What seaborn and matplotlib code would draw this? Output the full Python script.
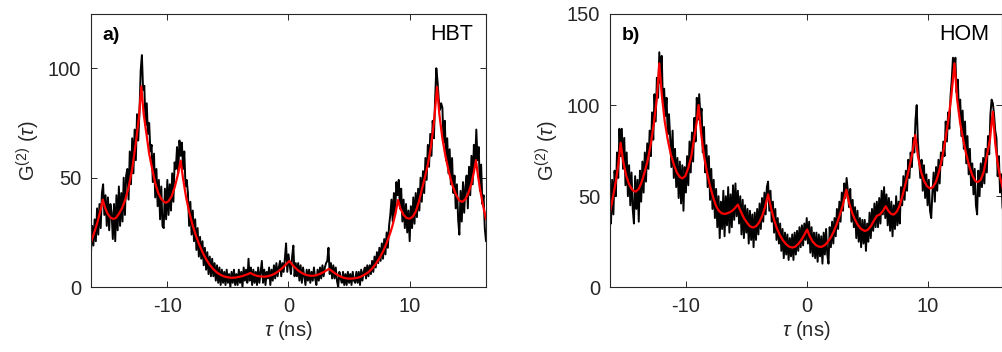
import numpy as np
import pandas as pd
import matplotlib
matplotlib.use("Agg")
import matplotlib.pyplot as plt
import seaborn as sns

# ---------------- data ----------------
tau_start = -16.3
tau_step = 0.1

# Panel a (HBT) measured histogram, 0.1 ns bins from -16.3 ns
hbt_counts = [
    16, 28, 19, 31, 21, 36, 24, 38, 27, 43,
    47, 33, 42, 28, 41, 26, 38, 34, 22, 38,
    21, 42, 26, 46, 28, 43, 30, 50, 33, 51,
    54, 40, 62, 47, 68, 52, 72, 58, 79, 67,
    80, 99, 106, 90, 92, 74, 84, 70, 75, 62,
    65, 48, 61, 41, 54, 37, 49, 31, 46, 28,
    27, 45, 31, 49, 33, 47, 35, 52, 39, 57,
    54, 64, 52, 67, 60, 66, 54, 62, 46, 49,
    43, 28, 39, 24, 35, 21, 31, 17, 27, 14,
    23, 13, 21, 10, 18, 8, 16, 6, 14, 5,
    13, 5, 11, 3, 10, 2, 9, 1, 8, 2,
    7, 1, 8, 2, 6, 0, 7, 2, 8, 1,
    6, 1, 8, 2, 7, 0, 9, 3, 8, 2,
    13, 3, 9, 1, 8, 2, 7, 1, 9, 2,
    7, 12, 2, 8, 1, 7, 4, 9, 1, 8,
    3, 10, 4, 11, 5, 9, 12, 5, 11, 7,
    13, 20, 7, 15, 10, 6, 14, 19, 5, 11,
    5, 11, 3, 10, 2, 9, 5, 1, 8, 3,
    8, 2, 7, 3, 9, 4, 1, 8, 3, 9,
    4, 10, 5, 9, 11, 12, 18, 6, 11, 4,
    10, 4, 9, 3, 0, 7, 4, 2, 7, 1,
    6, 1, 7, 2, 6, 1, 7, 3, 2, 7,
    2, 7, 1, 8, 3, 7, 9, 4, 10, 5,
    10, 6, 12, 7, 14, 9, 16, 11, 18, 12,
    20, 13, 22, 15, 25, 18, 28, 33, 40, 30,
    43, 33, 48, 42, 49, 36, 45, 30, 40, 27,
    38, 25, 35, 21, 37, 27, 41, 29, 43, 32,
    45, 35, 50, 39, 53, 43, 59, 49, 65, 55,
    70, 60, 76, 68, 86, 100, 94, 86, 81, 84,
    82, 66, 76, 58, 68, 52, 63, 47, 59, 43,
    51, 36, 47, 31, 24, 44, 30, 48, 34, 46,
    51, 36, 55, 42, 60, 47, 65, 56, 72, 58,
    64, 44, 56, 38, 42, 27, 21,
]

# Panel b (HOM) measured histogram, 0.1 ns bins from -16.3 ns
hom_counts = [
    49, 35, 59, 40, 64, 50, 74, 60, 87, 72,
    87, 65, 82, 56, 74, 50, 67, 45, 63, 43,
    35, 61, 43, 59, 36, 64, 47, 69, 52, 74,
    58, 79, 65, 86, 72, 96, 81, 106, 91, 115,
    104, 129, 112, 127, 101, 109, 94, 104, 84, 95,
    82, 66, 86, 60, 76, 55, 71, 49, 69, 46,
    67, 42, 66, 52, 72, 56, 80, 63, 85, 69,
    93, 80, 104, 92, 106, 94, 98, 74, 88, 63,
    78, 55, 72, 48, 65, 43, 59, 38, 54, 33,
    50, 27, 47, 32, 53, 28, 50, 34, 55, 30,
    51, 33, 56, 37, 57, 39, 53, 35, 50, 29,
    48, 27, 45, 30, 43, 24, 42, 26, 40, 22,
    41, 26, 43, 29, 46, 32, 49, 36, 52, 40,
    55, 58, 42, 53, 36, 47, 30, 43, 26, 38,
    24, 35, 20, 32, 16, 30, 18, 29, 15, 27,
    17, 29, 15, 30, 18, 31, 20, 33, 22, 34,
    23, 35, 26, 38, 24, 36, 19, 33, 17, 30,
    16, 30, 14, 29, 17, 28, 13, 30, 18, 32,
    18, 13, 33, 22, 36, 24, 38, 28, 43, 32,
    47, 36, 52, 42, 57, 49, 60, 53, 44, 54,
    36, 48, 33, 44, 27, 42, 25, 38, 22, 37,
    24, 37, 20, 35, 25, 41, 27, 43, 31, 46,
    33, 47, 33, 49, 35, 53, 40, 55, 38, 51,
    34, 49, 31, 47, 28, 45, 32, 50, 34, 47,
    35, 55, 45, 61, 48, 64, 53, 70, 60, 74,
    66, 82, 74, 92, 100, 80, 70, 60, 70, 53,
    67, 49, 62, 45, 59, 42, 38, 52, 63, 47,
    66, 53, 70, 57, 74, 67, 80, 72, 91, 80,
    96, 87, 105, 114, 126, 118, 126, 107, 114, 96,
    103, 83, 97, 76, 91, 68, 83, 62, 76, 56,
    68, 51, 65, 45, 40, 64, 50, 68, 55, 71,
    57, 76, 63, 83, 73, 95, 103, 101, 95, 86,
    82, 61, 72, 52, 62, 44, 40,
]

# Fitted model curves
hbt_fit_tau = [
    -16.3, -16.0, -15.75, -15.5, -15.33, -15.15, -14.95, -14.7, -14.45, -14.25,
    -14.0, -13.75, -13.5, -13.2, -12.9, -12.6, -12.35, -12.15, -11.95, -11.7,
    -11.5, -11.25, -11.0, -10.75, -10.5, -10.25, -10.1, -9.9, -9.65, -9.4,
    -9.15, -8.9, -8.7, -8.45, -8.2, -7.95, -7.7, -7.4, -7.1, -6.8,
    -6.5, -6.2, -5.9, -5.6, -5.3, -5.0, -4.7, -4.4, -4.1, -3.8,
    -3.5, -3.3, -3.15, -2.9, -2.6, -2.3, -2.0, -1.7, -1.4, -1.1,
    -0.8, -0.5, -0.25, 0.08, 0.3, 0.55, 0.8, 1.1, 1.4, 1.7,
    2.0, 2.3, 2.6, 2.9, 3.15, 3.33, 3.6, 3.9, 4.2, 4.5,
    4.8, 5.1, 5.4, 5.7, 6.0, 6.3, 6.6, 6.9, 7.2, 7.5,
    7.8, 8.1, 8.4, 8.6, 8.8, 9.04, 9.25, 9.5, 9.75, 10.0,
    10.25, 10.5, 10.75, 11.0, 11.25, 11.5, 11.75, 12.0, 12.26, 12.45,
    12.7, 12.95, 13.2, 13.5, 13.8, 14.1, 14.35, 14.6, 14.85, 15.1,
    15.3, 15.47, 15.65, 15.85, 16.05, 16.3,
]
hbt_fit_val = [
    20.5, 25.5, 30.0, 35.5, 40.0, 36.5, 33.8, 31.8, 31.2, 31.6,
    33.5, 36.0, 39.5, 45.5, 54.0, 66.0, 77.0, 91.7, 79.0, 69.0,
    61.0, 54.0, 47.5, 43.0, 40.3, 38.9, 38.6, 39.3, 41.5, 45.5,
    51.0, 57.8, 49.5, 41.0, 34.5, 29.0, 24.5, 20.0, 16.0, 12.8,
    10.2, 8.2, 6.7, 5.6, 4.9, 4.5, 4.3, 4.4, 4.7, 5.1,
    5.7, 6.1, 6.5, 5.8, 5.2, 4.9, 4.8, 5.0, 5.5, 6.3,
    7.4, 8.8, 10.2, 12.0, 10.3, 8.9, 7.6, 6.5, 5.7, 5.3,
    5.2, 5.5, 6.1, 6.9, 7.7, 8.4, 7.3, 6.1, 5.1, 4.4,
    4.0, 3.9, 4.0, 4.3, 4.9, 5.8, 6.9, 8.5, 10.6, 13.2,
    16.3, 20.2, 24.8, 28.5, 33.0, 39.8, 35.8, 33.0, 31.6, 31.3,
    32.2, 34.5, 38.8, 44.5, 50.0, 56.0, 64.0, 75.0, 91.5, 79.0,
    68.0, 60.0, 53.5, 47.0, 42.5, 39.5, 39.0, 40.2, 43.0, 47.5,
    52.5, 58.0, 50.5, 43.5, 37.5, 31.0,
]

hom_fit_tau = [
    -16.3, -16.05, -15.8, -15.6, -15.4, -15.2, -14.95, -14.7, -14.4, -14.15,
    -13.9, -13.65, -13.4, -13.15, -12.9, -12.65, -12.4, -12.2, -12.0, -11.75,
    -11.5, -11.25, -11.0, -10.75, -10.5, -10.3, -10.05, -9.8, -9.55, -9.3,
    -9.1, -8.95, -8.75, -8.5, -8.25, -8.0, -7.75, -7.5, -7.25, -7.0,
    -6.75, -6.5, -6.25, -6.0, -5.7, -5.45, -5.2, -4.95, -4.7, -4.45,
    -4.2, -3.95, -3.7, -3.45, -3.2, -2.95, -2.7, -2.45, -2.2, -1.95,
    -1.7, -1.45, -1.2, -0.95, -0.7, -0.45, -0.2, 0.03, 0.25, 0.5,
    0.75, 1.0, 1.25, 1.5, 1.75, 2.0, 2.25, 2.5, 2.75, 3.0,
    3.28, 3.5, 3.75, 4.0, 4.25, 4.5, 4.8, 5.05, 5.3, 5.55,
    5.8, 6.05, 6.3, 6.53, 6.75, 7.0, 7.2, 7.45, 7.7, 7.95,
    8.2, 8.5, 8.75, 8.98, 9.2, 9.45, 9.7, 9.95, 10.2, 10.45,
    10.7, 10.95, 11.2, 11.45, 11.7, 11.95, 12.23, 12.45, 12.7, 12.95,
    13.2, 13.45, 13.7, 13.95, 14.15, 14.4, 14.65, 14.9, 15.15, 15.4,
    15.6, 15.8, 16.0, 16.3,
]
hom_fit_val = [
    40.5, 49.0, 58.0, 67.0, 79.3, 69.5, 61.5, 56.5, 53.2, 52.5,
    54.0, 58.0, 63.5, 70.0, 79.0, 90.0, 104.0, 122.9, 106.0, 91.0,
    81.0, 73.0, 67.5, 63.0, 60.5, 59.8, 61.0, 65.5, 72.0, 82.5,
    91.0, 100.0, 85.0, 72.0, 63.0, 55.5, 49.5, 44.5, 41.8, 40.5,
    40.3, 40.8, 41.6, 43.0, 45.4, 41.5, 38.0, 35.5, 33.5, 32.8,
    33.5, 35.5, 39.0, 44.0, 51.0, 43.5, 37.0, 32.0, 28.3, 25.6,
    23.6, 22.3, 21.8, 22.3, 23.8, 26.0, 28.8, 31.7, 28.0, 25.0,
    23.2, 22.3, 22.2, 23.2, 25.0, 27.5, 30.8, 35.0, 40.0, 45.5,
    53.6, 46.5, 41.0, 37.0, 34.0, 32.0, 30.9, 31.5, 33.5, 36.5,
    39.2, 40.0, 41.8, 44.5, 42.0, 40.2, 39.9, 41.5, 45.0, 51.0,
    57.5, 66.0, 74.0, 83.6, 72.0, 63.5, 58.5, 55.5, 54.3, 55.0,
    58.0, 63.5, 71.0, 80.0, 91.0, 104.0, 122.9, 103.0, 90.0, 81.0,
    73.0, 66.5, 61.5, 58.3, 57.8, 59.0, 63.5, 72.0, 80.5, 96.4,
    79.0, 68.0, 60.5, 52.0,
]

panel_letters = ["a)", "b)"]
panel_titles = ["HBT", "HOM"]
y_limits = [(0, 125), (0, 150)]
y_ticks = [[0, 50, 100], [0, 50, 100, 150]]
x_ticks = [-10, 0, 10]

# ---------------- style ----------------
sns.set_style("ticks")
plt.rcParams["font.family"] = ["Liberation Sans", "DejaVu Sans"]
plt.rcParams["mathtext.fontset"] = "custom"
plt.rcParams["mathtext.rm"] = "Liberation Sans"
plt.rcParams["mathtext.it"] = "Liberation Sans:italic"
plt.rcParams["axes.unicode_minus"] = False

ink = "#262626"

fig = plt.figure(figsize=(10.03, 3.52), dpi=100)
W, H = 1003.0, 352.0
ax_a = fig.add_axes([91 / W, (H - 287.2) / H, 395 / W, 273.7 / H])
ax_b = fig.add_axes([610 / W, (H - 287.3) / H, 392.5 / W, 273.3 / H])

def make_df(counts):
    tau = np.round(tau_start + tau_step * np.arange(len(counts)), 2)
    return pd.DataFrame({"tau": tau, "G2": counts})

panels = [
    (ax_a, make_df(hbt_counts), pd.DataFrame({"tau": hbt_fit_tau, "G2": hbt_fit_val}), (-16.3, 16.3)),
    (ax_b, make_df(hom_counts), pd.DataFrame({"tau": hom_fit_tau, "G2": hom_fit_val}), (-16.28, 16.2)),
]

for i, (ax, df, fit, xl) in enumerate(panels):
    sns.lineplot(data=df, x="tau", y="G2", ax=ax, color="black", lw=1.4,
                 estimator=None, sort=False, legend=False)
    sns.lineplot(data=fit, x="tau", y="G2", ax=ax, color="#ff0000", lw=1.6,
                 estimator=None, sort=False, legend=False)
    ax.set_xlim(*xl)
    ax.set_ylim(*y_limits[i])
    ax.set_xticks(x_ticks)
    ax.set_yticks(y_ticks[i])
    ax.tick_params(direction="in", length=4, width=0.7, colors=ink,
                   labelsize=14.5, top=True, right=True, pad=7)
    for s in ax.spines.values():
        s.set_color(ink)
        s.set_linewidth(0.8)
    ax.set_xlabel(r"$\it{\tau}$ (ns)", fontsize=14.5, color=ink, labelpad=2)
    ax.set_ylabel(r"G$^{(2)}$ ($\it{\tau}$)", fontsize=14.5, color=ink, labelpad=4)
    ax.text(0.03, 0.905, panel_letters[i], transform=ax.transAxes,
            fontsize=14, fontweight="bold", color="black", ha="left", va="baseline")
    ax.text(0.967, 0.905, panel_titles[i], transform=ax.transAxes,
            fontsize=15.5, color="black", ha="right", va="baseline")

fig.savefig("out.png", dpi=100)
